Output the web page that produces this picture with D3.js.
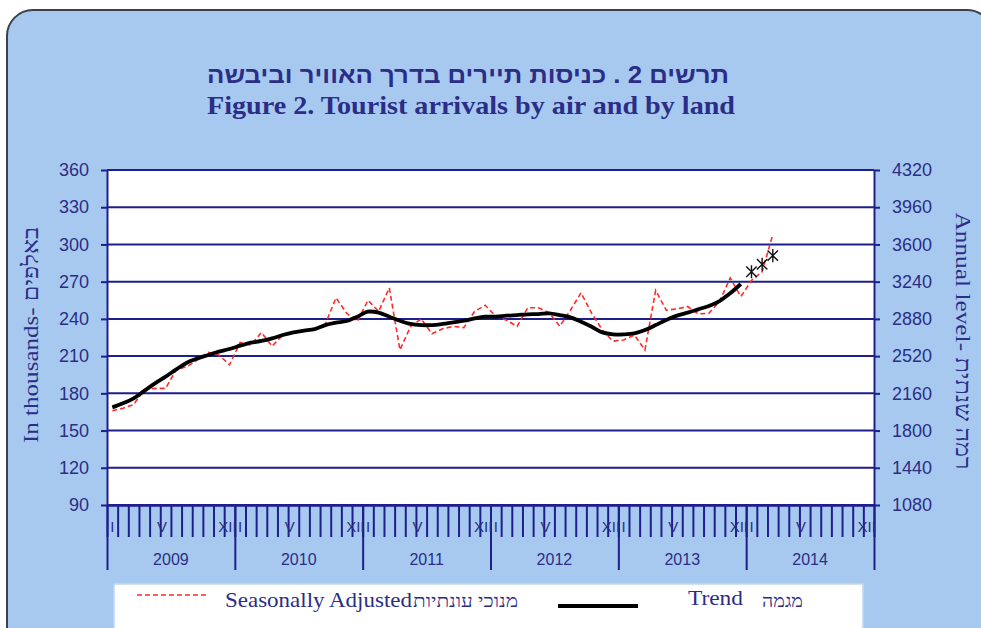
<!DOCTYPE html>
<html>
<head>
<meta charset="utf-8">
<script src="https://cdn.jsdelivr.net/npm/d3@7"></script>
<style>
  body { margin: 0; background: #fff; }
  svg { display: block; }
  .sans { font-family: "Liberation Sans", Arial, sans-serif; }
  .serif { font-family: "Liberation Serif", "Times New Roman", serif; }
</style>
</head>
<body>
<div id="chart"></div>
<script>
// chart data (monthly, Jan 2009 .. Mar 2014)
const years = ["2009", "2010", "2011", "2012", "2013", "2014"];
const monthLabels = ["I", "", "", "", "V", "", "", "", "", "", "", "XII"];
const leftTicks = [90, 120, 150, 180, 210, 240, 270, 300, 330, 360];
const rightTicks = [1080, 1440, 1800, 2160, 2520, 2880, 3240, 3600, 3960, 4320];

// seasonally adjusted, thousands
const seasonal = [
  166, 168, 171, 183, 184, 184, 199, 201.5, 207, 213, 211, 203,
  221, 219, 229, 218, 227, 229, 231, 232, 236, 257, 244.5, 238,
  255, 246, 265, 215, 234, 240, 228, 232, 234, 233, 246, 251,
  242, 239, 234, 249, 249, 245, 234, 247, 261, 244.5, 231, 222,
  223, 227, 215, 263, 247, 248, 250, 244, 244.5, 254, 273, 258,
  271, 278, 308
];
// trend, thousands (Jan 2009 .. Dec 2013)
const trend = [
  168.7, 172, 176, 182, 188, 193.4, 199.3, 204.7, 208.2, 210.9, 213.6, 215.7,
  218.4, 220.8, 222.2, 224.3, 227, 229.1, 230.5, 231.8, 235, 236.9, 238.3, 241.8,
  245.8, 245, 241.8, 238.5, 235.9, 235, 235, 235.9, 237.2, 238.5, 240.4, 241.8,
  241.8, 242.6, 243.1, 243.7, 243.9, 244.5, 243.1, 241.2, 237.7, 233.7, 229.1, 227.5,
  227.5, 228.3, 231, 235, 239.1, 242.6, 245, 247.7, 250.4, 254.4, 260.6, 268.1
];
// provisional trend (Jan .. Mar 2014), drawn as asterisks
const trendProvisional = [278, 284, 291];

const navy = "#1e1e8c";
const textNavy = "#2b2d86";

let svgWidth = 981;
let svgHeight = 628;
let plot = { left: 107, right: 874, top: 170, bottom: 505 };

let svg = d3.select("#chart")
    .append("svg")
    .attr("width", svgWidth)
    .attr("height", svgHeight);

// rounded blue panel
svg.append("rect")
    .attr("x", 7).attr("y", 10)
    .attr("width", 986).attr("height", 660)
    .attr("rx", 26)
    .attr("fill", "#a8c9ef")
    .attr("stroke", "#3c424c")
    .attr("stroke-width", 2);

// titles
svg.append("text")
    .attr("class", "sans")
    .attr("x", 468).attr("y", 83)
    .attr("text-anchor", "middle")
    .attr("font-size", 23).attr("font-weight", "bold")
    .attr("fill", textNavy)
    .attr("textLength", 522).attr("lengthAdjust", "spacingAndGlyphs")
    .text("תרשים 2 . כניסות תיירים בדרך האוויר וביבשה");
svg.append("text")
    .attr("class", "serif")
    .attr("x", 471).attr("y", 114)
    .attr("text-anchor", "middle")
    .attr("font-size", 25).attr("font-weight", "bold")
    .attr("fill", textNavy)
    .attr("textLength", 528).attr("lengthAdjust", "spacingAndGlyphs")
    .text("Figure 2. Tourist arrivals by air and  by land");

// scales
let months = years.length * 12;
let x = d3.scaleLinear().domain([0, months]).range([plot.left, plot.right]);
let y = d3.scaleLinear().domain([90, 360]).range([plot.bottom, plot.top]);
let yRight = d3.scaleLinear().domain([1080, 4320]).range([plot.bottom, plot.top]);

// plot background
svg.append("rect")
    .attr("x", plot.left).attr("y", plot.top)
    .attr("width", plot.right - plot.left).attr("height", plot.bottom - plot.top)
    .attr("fill", "#fff");

// horizontal grid
svg.append("g")
    .selectAll("line")
    .data(leftTicks)
    .enter().append("line")
    .attr("x1", plot.left).attr("x2", plot.right)
    .attr("y1", d => y(d)).attr("y2", d => y(d))
    .attr("stroke", navy).attr("stroke-width", 2);

// left axis
let leftAxis = svg.append("g")
    .attr("transform", `translate(${plot.left},0)`)
    .call(d3.axisLeft(y).tickValues(leftTicks).tickSize(6).tickSizeOuter(0)
        .tickPadding(12).tickFormat(d3.format("d")));
// right axis
let rightAxis = svg.append("g")
    .attr("transform", `translate(${plot.right},0)`)
    .call(d3.axisRight(yRight).tickValues(rightTicks).tickSize(6).tickSizeOuter(0)
        .tickPadding(12).tickFormat(d3.format("d")));

[leftAxis, rightAxis].forEach(ax => {
    ax.select(".domain").attr("stroke", navy).attr("stroke-width", 2);
    ax.selectAll(".tick line").attr("stroke", navy).attr("stroke-width", 2);
    ax.selectAll(".tick text")
        .attr("class", "sans")
        .attr("font-size", 18)
        .attr("fill", textNavy);
});

// month ticks
let monthAxis = svg.append("g")
    .attr("transform", `translate(0,${plot.bottom})`)
    .call(d3.axisBottom(x).tickValues(d3.range(0, months + 1)).tickSize(32).tickSizeOuter(0).tickFormat(""));
// year ticks
let yearAxis = svg.append("g")
    .attr("transform", `translate(0,${plot.bottom})`)
    .call(d3.axisBottom(x).tickValues(d3.range(0, months + 1, 12)).tickSize(65).tickSizeOuter(0).tickFormat(""));
[monthAxis, yearAxis].forEach(ax => {
    ax.select(".domain").attr("stroke", navy).attr("stroke-width", 2);
    ax.selectAll(".tick line").attr("stroke", navy).attr("stroke-width", 2);
});

// month labels (the V sits a little right of its month, as in the original)
let labelShift = { "I": 0, "V": 7, "XII": -2 };
let monthIdx = d3.range(0, months);
svg.append("g")
    .selectAll("text")
    .data(monthIdx.filter(i => monthLabels[i % 12] !== ""))
    .enter().append("text")
    .attr("class", "sans")
    .attr("x", i => x(i + 0.5) + labelShift[monthLabels[i % 12]])
    .attr("y", 532)
    .attr("text-anchor", "middle")
    .attr("font-size", 15)
    .attr("fill", textNavy)
    .text(i => monthLabels[i % 12]);

// year labels
svg.append("g")
    .selectAll("text")
    .data(years)
    .enter().append("text")
    .attr("class", "sans")
    .attr("x", (d, i) => x(i * 12 + 6))
    .attr("y", 565)
    .attr("text-anchor", "middle")
    .attr("font-size", 16)
    .attr("fill", textNavy)
    .text(d => d);

// axis titles
svg.append("text")
    .attr("class", "serif")
    .attr("transform", "translate(38,335) rotate(-90)")
    .attr("text-anchor", "middle")
    .attr("font-size", 22)
    .attr("fill", textNavy)
    .attr("textLength", 216).attr("lengthAdjust", "spacingAndGlyphs")
    .text("In thousands- באלפים");
svg.append("text")
    .attr("class", "serif")
    .attr("transform", "translate(956,341) rotate(90)")
    .attr("text-anchor", "middle")
    .attr("font-size", 22)
    .attr("fill", textNavy)
    .attr("textLength", 257).attr("lengthAdjust", "spacingAndGlyphs")
    .text("Annual level- רמה שנתית");

// series
let seasonalLine = d3.line()
    .x((d, i) => x(i + 0.5))
    .y(d => y(d));
svg.append("path")
    .datum(seasonal)
    .attr("d", seasonalLine)
    .attr("fill", "none")
    .attr("stroke", "#ff2a2a")
    .attr("stroke-width", 1.6)
    .attr("stroke-dasharray", "5,3");

let trendLine = d3.line()
    .x((d, i) => x(i + 0.5))
    .y(d => y(d))
    .curve(d3.curveCatmullRom);
svg.append("path")
    .datum(trend)
    .attr("d", trendLine)
    .attr("fill", "none")
    .attr("stroke", "#000")
    .attr("stroke-width", 3.8)
    .attr("stroke-linejoin", "round");

// star marker: an X with a vertical bar
let star = {
    draw(ctx, size) {
        let r = Math.sqrt(size) / 2;
        let d = r * 0.8;
        ctx.moveTo(0, -r); ctx.lineTo(0, r);
        ctx.moveTo(-d, -d); ctx.lineTo(d, d);
        ctx.moveTo(-d, d); ctx.lineTo(d, -d);
    }
};
svg.append("g")
    .selectAll("path")
    .data(trendProvisional)
    .enter().append("path")
    .attr("transform", (d, i) => `translate(${x(trend.length + i + 0.5)},${y(d)})`)
    .attr("d", d3.symbol().type(star).size(170))
    .attr("fill", "none")
    .attr("stroke", "#111")
    .attr("stroke-width", 1.4);

// legend
let legend = svg.append("g");
legend.append("rect")
    .attr("x", 114).attr("y", 584)
    .attr("width", 749).attr("height", 50)
    .attr("fill", "#fff")
    .attr("stroke", "#c5d6ec")
    .attr("stroke-width", 1.5);
legend.append("line")
    .attr("x1", 137).attr("x2", 207)
    .attr("y1", 595).attr("y2", 595)
    .attr("stroke", "#ff2a2a")
    .attr("stroke-width", 1.6)
    .attr("stroke-dasharray", "5,3");
legend.append("text")
    .attr("class", "serif")
    .attr("x", 225).attr("y", 607)
    .attr("font-size", 21)
    .attr("fill", textNavy)
    .attr("textLength", 187).attr("lengthAdjust", "spacingAndGlyphs")
    .text("Seasonally Adjusted");
legend.append("text")
    .attr("class", "serif")
    .attr("x", 413).attr("y", 607)
    .attr("font-size", 18)
    .attr("fill", textNavy)
    .attr("textLength", 105).attr("lengthAdjust", "spacingAndGlyphs")
    .text("מנוכי עונתיות");
legend.append("line")
    .attr("x1", 558).attr("x2", 638)
    .attr("y1", 606).attr("y2", 606)
    .attr("stroke", "#000")
    .attr("stroke-width", 4);
legend.append("text")
    .attr("class", "serif")
    .attr("x", 688).attr("y", 605)
    .attr("font-size", 21)
    .attr("fill", textNavy)
    .attr("textLength", 55).attr("lengthAdjust", "spacingAndGlyphs")
    .text("Trend");
legend.append("text")
    .attr("class", "serif")
    .attr("x", 762).attr("y", 607)
    .attr("font-size", 18)
    .attr("fill", textNavy)
    .attr("textLength", 41).attr("lengthAdjust", "spacingAndGlyphs")
    .text("מגמה");
</script>
</body>
</html>
